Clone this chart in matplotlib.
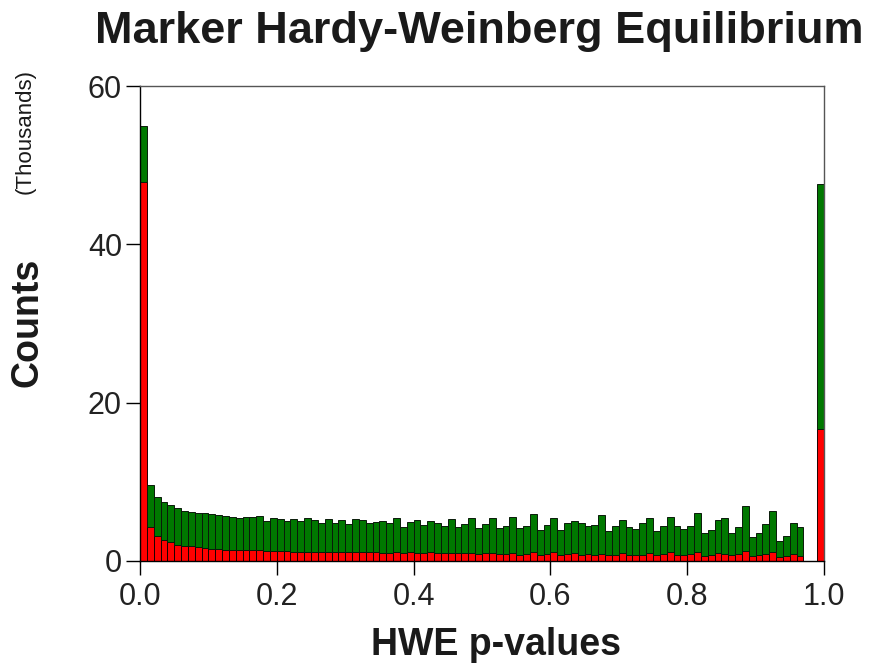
import numpy as np
import matplotlib
matplotlib.use("Agg")
import matplotlib.pyplot as plt

# counts in thousands, 100 bins of width 0.01 over [0, 1]
total_k = [55.0, 9.66, 8.14, 7.5, 7.05, 6.67, 6.37, 6.24, 6.12, 6.03,
           5.95, 5.86, 5.65, 5.53, 5.44, 5.53, 5.61, 5.70, 5.10, 5.40,
           5.27, 5.10, 5.32, 5.10, 5.44, 5.23, 4.81, 5.27, 4.77, 5.19,
           4.64, 5.27, 5.23, 4.77, 4.94, 5.10, 4.77, 5.40, 4.26, 4.94,
           5.23, 4.51, 5.10, 4.77, 4.47, 5.27, 4.30, 4.68, 5.40, 4.18,
           4.68, 5.40, 4.18, 4.47, 5.53, 4.18, 4.47, 5.91, 3.97, 4.56,
           5.44, 3.97, 4.81, 5.10, 4.77, 4.47, 4.56, 5.82, 3.80, 4.47,
           5.23, 4.30, 4.09, 4.77, 5.40, 3.80, 4.47, 5.61, 4.47, 4.09,
           4.47, 6.03, 3.50, 3.97, 5.23, 5.40, 3.50, 4.26, 7.00, 3.04,
           3.50, 4.64, 6.33, 2.53, 3.20, 4.77, 4.35, 0.0, 0.0, 47.6]
red_k = [47.9, 4.26, 3.12, 2.66, 2.36, 2.07, 1.86, 1.86, 1.73, 1.60,
         1.56, 1.52, 1.43, 1.43, 1.35, 1.39, 1.39, 1.39, 1.27, 1.27,
         1.27, 1.27, 1.18, 1.18, 1.18, 1.18, 1.18, 1.14, 1.14, 1.14,
         1.14, 1.14, 1.10, 1.10, 1.10, 1.01, 1.01, 1.10, 0.97, 1.10,
         1.05, 0.97, 1.10, 0.97, 0.97, 0.97, 0.97, 0.97, 0.97, 0.89,
         0.97, 1.05, 0.89, 0.89, 0.97, 0.80, 0.89, 1.10, 0.80, 0.89,
         1.10, 0.72, 0.89, 1.05, 0.72, 0.89, 0.72, 0.89, 0.72, 0.72,
         1.05, 0.80, 0.80, 0.80, 0.97, 0.72, 0.89, 1.10, 0.72, 0.80,
         0.89, 1.10, 0.63, 0.72, 1.05, 0.89, 0.72, 0.89, 1.22, 0.63,
         0.72, 0.89, 1.14, 0.46, 0.63, 0.89, 0.63, 0.0, 0.0, 16.7]

bin_left = np.linspace(0, 1, 101)[:-1]
total = np.array(total_k)
red = np.array(red_k)
green = total - red

xticks = [0.0, 0.2, 0.4, 0.6, 0.8, 1.0]
yticks = [0, 20, 40, 60]

plt.rcParams['font.family'] = ['Liberation Sans', 'DejaVu Sans']

fig = plt.figure(figsize=(8.7, 6.7), dpi=100)
ax = fig.add_axes([140/870, 1-561/670, 684/870, 475/670])

ax.bar(bin_left, red, width=0.01, align='edge', color='#ff0000',
       edgecolor='#1a0000', linewidth=0.7)
ax.bar(bin_left, green, bottom=red, width=0.01, align='edge', color='#007800',
       edgecolor='#0a1a0a', linewidth=0.7)

ax.set_xlim(0, 1)
ax.set_ylim(0, 60)
ax.set_xticks(xticks)
ax.set_xticklabels(['%.1f' % t for t in xticks])
ax.set_yticks(yticks)
ax.tick_params(axis='both', direction='out', length=10, width=1,
               labelsize=22, colors='black', labelcolor='#222222')
ax.tick_params(axis='x', pad=5)
ax.tick_params(axis='y', pad=3)
for side in ['top', 'right']:
    ax.spines[side].set_color('#555555')
    ax.spines[side].set_linewidth(1)
for side in ['left', 'bottom']:
    ax.spines[side].set_linewidth(1)

fig.text(95/870, 1-32/670, 'Marker Hardy-Weinberg Equilibrium', fontsize=32.5,
         fontweight='bold', ha='left', va='center', color='#1a1a1a')
fig.text(496/870, 1-645/670, 'HWE p-values', fontsize=27, fontweight='bold',
         ha='center', va='center', color='#1a1a1a')
fig.text(28/870, 1-322/670, 'Counts', fontsize=27, fontweight='bold',
         rotation=90, ha='center', va='center', color='#1a1a1a')
fig.text(25/870, 1-132/670, '(Thousands)', fontsize=16, rotation=90,
         ha='center', va='center', color='#1a1a1a')

fig.savefig('out.png', dpi=100, facecolor='white')
